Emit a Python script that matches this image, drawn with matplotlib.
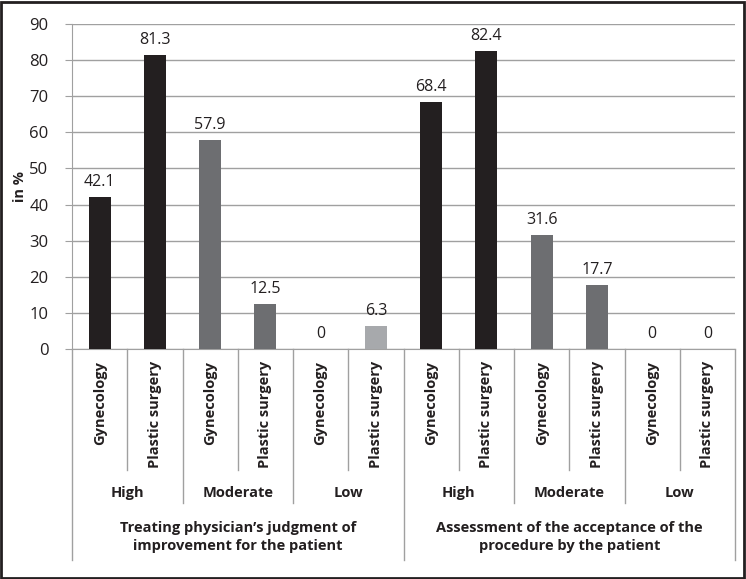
import matplotlib.pyplot as plt
from matplotlib.transforms import blended_transform_factory
from matplotlib.patches import Rectangle

plt.rcParams['font.family'] = ['Open Sans', 'DejaVu Sans']

# data
sub_labels = ['Gynecology', 'Plastic surgery'] * 6
level_labels = ['High', 'Moderate', 'Low', 'High', 'Moderate', 'Low']
outer_labels = ['Treating physician\u2019s judgment of\nimprovement for the patient',
                'Assessment of the acceptance of the\nprocedure by the patient']
values = [42.1, 81.3, 57.9, 12.5, 0, 6.3, 68.4, 82.4, 31.6, 17.7, 0, 0]
bar_colors = ['#231f20', '#231f20', '#6d6e71', '#6d6e71', '#a7a9ac', '#a7a9ac',
              '#231f20', '#231f20', '#6d6e71', '#6d6e71', '#a7a9ac', '#a7a9ac']

W, H = 746, 579
fig = plt.figure(figsize=(W / 100, H / 100), dpi=100)
ax = fig.add_axes([72 / W, (H - 349) / H, (735 - 72) / W, (349 - 24) / H])

x = list(range(len(values)))
ax.bar(x, values, width=0.4, color=bar_colors, zorder=3)
for xi, v in zip(x, values):
    ax.text(xi, v + 2, f'{v:g}', ha='center', va='bottom', fontsize=11.5,
            color='#231f20')

ax.set_xlim(-0.5, 11.5)
ax.set_ylim(0, 90)
ax.set_yticks(range(0, 91, 10))
ax.yaxis.grid(True, color='#a0a0a0', linewidth=1)
ax.set_axisbelow(True)
ax.tick_params(axis='y', length=5, color='#a0a0a0', labelsize=12, pad=12,
               labelcolor='#231f20')
ax.set_xticks([])
for s in ['top', 'right']:
    ax.spines[s].set_visible(False)
ax.spines['left'].set_color('#a0a0a0')
ax.spines['bottom'].set_color('#a0a0a0')
fig.text(20 / W, 1 - 186 / H, 'in %', rotation=90, ha='center', va='center',
         fontsize=10.5, fontweight='bold', color='#231f20')

tr = blended_transform_factory(ax.transData, ax.transAxes)
ah = 349 - 24


def ay(ypx):
    return (349 - ypx) / ah


line_kw = dict(color='#a0a0a0', linewidth=1, transform=tr, clip_on=False)
for b in [0.5, 2.5, 4.5, 6.5, 8.5, 10.5]:
    ax.plot([b, b], [0, ay(470)], **line_kw)
for b in [1.5, 3.5, 7.5, 9.5]:
    ax.plot([b, b], [0, ay(503)], **line_kw)
for b in [-0.5, 5.5, 11.5]:
    ax.plot([b, b], [0, ay(560)], **line_kw)

for xi, lab in zip(x, sub_labels):
    ax.text(xi, ay(361), lab, rotation=90, ha='center', va='top',
            fontsize=10.5, fontweight='bold', transform=tr, color='#231f20')
for i, lab in enumerate(level_labels):
    ax.text(2 * i + 0.5, ay(493), lab, ha='center', va='center',
            fontsize=10.5, fontweight='bold', transform=tr, color='#231f20')
for i, lab in enumerate(outer_labels):
    ax.text(6 * i + 2.5, ay(537), lab, ha='center', va='center',
            fontsize=10.5, fontweight='bold', transform=tr, color='#231f20',
            linespacing=1.3)

fig.patches.append(Rectangle((0.0015, 0.002), 0.996, 0.995, transform=fig.transFigure,
                             fill=False, edgecolor='#231f20', linewidth=2))

fig.savefig('out.png', dpi=100)
